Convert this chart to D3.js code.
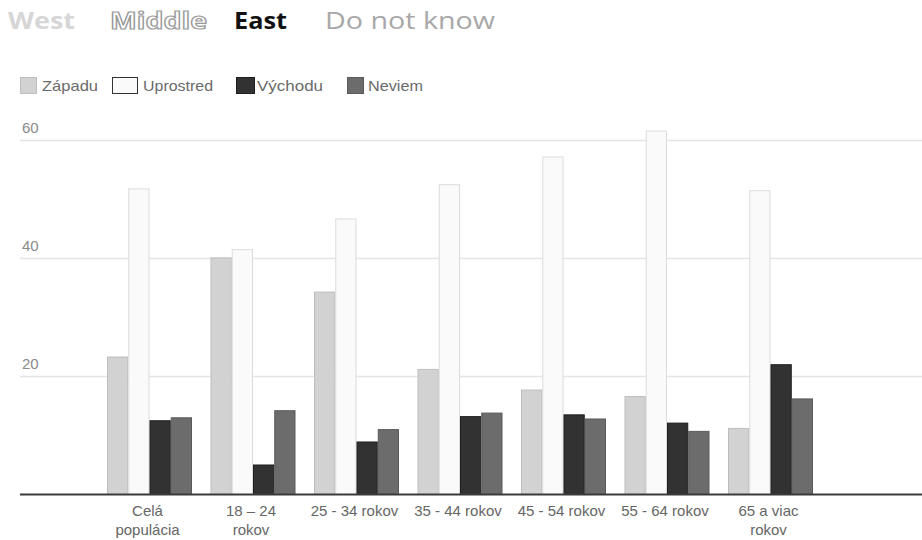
<!DOCTYPE html>
<html><head><meta charset="utf-8">
<script src="https://cdn.jsdelivr.net/npm/d3@7"></script>
<style>body{margin:0;background:#fff}svg{display:block}</style>
</head><body>
<svg id="c" width="922" height="540"></svg>
<script>
const categories = ["Celá\npopulácia", "18 – 24\nrokov", "25 - 34 rokov", "35 - 44 rokov", "45 - 54 rokov", "55 - 64 rokov", "65 a viac\nrokov"];
const seriesNames = ["Západu", "Uprostred", "Východu", "Neviem"];
const zapadu    = [23.3, 40.1, 34.3, 21.2, 17.7, 16.6, 11.2];
const uprostred = [51.8, 41.5, 46.7, 52.5, 57.2, 61.6, 51.5];
const vychodu   = [12.5, 5.0, 8.9, 13.2, 13.5, 12.1, 22.0];
const neviem    = [13.0, 14.2, 11.0, 13.8, 12.8, 10.7, 16.2];
const yTicks = [20, 40, 60];
const headerWords = ["West", "Middle", "East", "Do not know"];

const values = [zapadu, uprostred, vychodu, neviem];
const fills = ["#d2d2d2", "#fafafa", "#323232", "#6c6c6c"];
const strokes = ["#bdbdbd", "#dcdcdc", "#1e1e1e", "#5a5a5a"];

const svg = d3.select("#c");
const font = "'Liberation Sans', Arial, sans-serif";

// header
const hdr = [
  {x: 8, w: 67, fill: "#d6d6d6", stroke: "none", weight: 700},
  {x: 110, w: 97, fill: "#ffffff", stroke: "#9a9a9a", weight: 700},
  {x: 234, w: 53, fill: "#111111", stroke: "none", weight: 700},
  {x: 325, w: 170, fill: "#a8a8a8", stroke: "none", weight: 400}
];
svg.append("g").selectAll("text").data(headerWords).join("text")
  .attr("x", (d, i) => hdr[i].x).attr("y", 29)
  .attr("textLength", (d, i) => hdr[i].w).attr("lengthAdjust", "spacingAndGlyphs")
  .attr("font-family", "'Open Sans', 'Noto Sans', sans-serif")
  .attr("font-size", 23)
  .attr("font-weight", (d, i) => hdr[i].weight)
  .attr("fill", (d, i) => hdr[i].fill)
  .attr("stroke", (d, i) => hdr[i].stroke)
  .attr("stroke-width", (d, i) => hdr[i].stroke === "none" ? 0 : 1.2)
  .text(d => d);

// legend
const leg = [
  {sx: 20, sw: 16, tx: 42, tw: 56},
  {sx: 112, sw: 25, tx: 143, tw: 70},
  {sx: 236, sw: 18, tx: 257, tw: 66},
  {sx: 347, sw: 16, tx: 368, tw: 55}
];
const lg = svg.append("g").selectAll("g").data(seriesNames).join("g");
lg.append("rect")
  .attr("x", (d, i) => leg[i].sx + 0.5).attr("y", 77.5)
  .attr("width", (d, i) => leg[i].sw).attr("height", 16)
  .attr("fill", (d, i) => fills[i])
  .attr("stroke", (d, i) => i === 1 ? "#333" : strokes[i]);
lg.append("text")
  .attr("x", (d, i) => leg[i].tx).attr("y", 91)
  .attr("textLength", (d, i) => leg[i].tw).attr("lengthAdjust", "spacingAndGlyphs")
  .attr("font-family", font).attr("font-size", 15).attr("fill", "#6a6a6a")
  .text(d => d);

// scales
const y = d3.scaleLinear().domain([0, 60]).range([494, 140]);
const x = d3.scaleBand().domain(categories).range([97.75, 822.25])
  .paddingInner(18.5 / 103.5).paddingOuter(9.25 / 103.5);
const xs = d3.scaleBand().domain(seriesNames).range([0, x.bandwidth()]);

// grid
const grid = svg.append("g");
grid.selectAll("line").data(yTicks).join("line")
  .attr("x1", 20).attr("x2", 922)
  .attr("y1", d => Math.round(y(d)) + 0.5).attr("y2", d => Math.round(y(d)) + 0.5)
  .attr("stroke", "#e4e4e4").attr("stroke-width", 1.5);
grid.selectAll("text").data(yTicks).join("text")
  .attr("x", 22).attr("y", d => y(d) - 7)
  .attr("font-family", font).attr("font-size", 15).attr("fill", "#8a8a8a")
  .text(d => d);

// bars
const groups = svg.append("g").selectAll("g").data(categories).join("g")
  .attr("transform", d => `translate(${x(d)},0)`);
groups.selectAll("rect").data((d, ci) => seriesNames.map((s, si) => ({s, si, v: values[si][ci]})))
  .join("rect")
  .attr("x", d => xs(d.s) + 0.5)
  .attr("y", d => y(d.v) + 0.5)
  .attr("width", xs.bandwidth() - 1)
  .attr("height", d => y(0) - y(d.v))
  .attr("fill", d => fills[d.si])
  .attr("stroke", d => strokes[d.si]);

// baseline
svg.append("line").attr("x1", 20).attr("x2", 922).attr("y1", 494.5).attr("y2", 494.5)
  .attr("stroke", "#3a3a3a").attr("stroke-width", 2);

// x labels
const xl = svg.append("g").selectAll("text").data(categories).join("text")
  .attr("x", d => x(d) + x.bandwidth() / 2 - 2)
  .attr("y", 516)
  .attr("text-anchor", "middle")
  .attr("font-family", font).attr("font-size", 15).attr("fill", "#666");
xl.selectAll("tspan").data(d => d.split("\n")).join("tspan")
  .attr("x", function() { return d3.select(this.parentNode).attr("x"); })
  .attr("dy", (d, i) => i === 0 ? 0 : 19)
  .text(d => d);
</script>
</body></html>
